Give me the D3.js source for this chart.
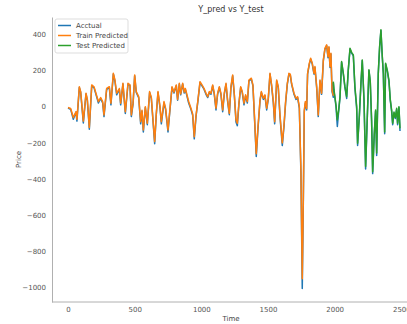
<!DOCTYPE html>
<html>
<head>
<meta charset="utf-8">
<script src="https://cdn.jsdelivr.net/npm/d3@7"></script>
<style>
  body { margin: 0; background: #fff; }
  text { font-family: "DejaVu Sans", sans-serif; }
</style>
</head>
<body>
<div id="chart"></div>
<script>
// training window: time, actual price, train prediction
const trainTime = [0, 20, 40, 60, 67, 85, 95, 115, 135, 145, 160, 178, 195, 215, 228, 245, 260, 270, 290, 310,
  322, 340, 352, 365, 385, 395, 412, 430, 450, 465, 475, 488, 500, 512, 530, 545, 555, 565, 580, 595,
  612, 625, 650, 662, 675, 690, 700, 720, 732, 750, 765, 780, 795, 812, 822, 835, 845, 860, 872, 880,
  905, 922, 935, 947, 960, 975, 990, 1005, 1020, 1035, 1048, 1060, 1072, 1085, 1097, 1110, 1122, 1135, 1147, 1160,
  1172, 1185, 1197, 1210, 1222, 1235, 1247, 1260, 1270, 1282, 1295, 1307, 1320, 1332, 1345, 1357, 1375, 1387, 1400, 1412,
  1425, 1440, 1450, 1465, 1477, 1490, 1502, 1515, 1527, 1540, 1550, 1565, 1577, 1590, 1607, 1620, 1632, 1645, 1657, 1667,
  1677, 1695, 1710, 1722, 1735, 1747, 1757, 1765, 1772, 1780, 1790, 1797, 1810, 1820, 1832, 1845, 1852, 1865, 1877, 1890,
  1902, 1915, 1927, 1940, 1950, 1957, 1965, 1972, 1980, 1990];
const trainActual = [-8, -15, -70, -30, -80, 105, 80, -90, 70, 35, -125, 115, 105, 55, 20, 45, 20, -55, 95, 105,
  10, 180, 140, 65, 95, 10, 125, -38, 125, 115, -55, 15, 170, 78, 50, -95, -25, -140, -5, -100,
  78, 45, -205, -45, 78, -5, -95, 20, -15, -140, -15, 105, 75, 115, 35, 125, 65, 125, 75, 95,
  20, -15, -48, -178, -55, 35, 133, 115, 96, 68, 50, 78, 68, 115, 68, -18, 68, 105, 68, -28,
  68, 124, 30, -45, 104, 170, 68, -85, -105, 15, 105, 78, 10, 60, 20, 142, 152, 115, -85, -275,
  -120, 30, 78, 40, 60, -18, 40, 180, 115, 20, -95, 142, 105, -55, -215, -110, 20, 124, 180, 175,
  124, 68, 40, 50, -8, -370, -1005, -520, -30, 20, -18, 180, 235, 262, 235, 180, 216, 105, -55, 142,
  68, 253, 318, 337, 270, 326, 216, 290, 85, 52];
const trainPred = [-5, -10, -60, -28, -70, 110, 83, -80, 74, 40, -115, 120, 110, 60, 28, 50, 28, -46, 101, 110,
  19, 184, 147, 74, 100, 19, 129, -28, 129, 120, -46, 20, 175, 83, 55, -83, -20, -129, 0, -92,
  83, 50, -193, -40, 83, 0, -83, 28, -10, -129, -10, 110, 80, 120, 40, 129, 70, 129, 80, 100,
  28, -9, -40, -166, -50, 40, 138, 120, 101, 74, 55, 83, 74, 120, 74, -9, 74, 110, 74, -18,
  74, 129, 37, -37, 110, 175, 74, -73, -92, 20, 110, 83, 19, 65, 28, 147, 157, 120, -73, -260,
  -110, 37, 83, 46, 65, -9, 46, 184, 120, 28, -83, 147, 110, -46, -200, -100, 28, 129, 184, 180,
  129, 74, 46, 55, 0, -350, -950, -500, -20, 28, -10, 184, 240, 267, 240, 184, 221, 110, -46, 147,
  74, 258, 322, 341, 276, 331, 221, 295, 92, 60];

// test window: time, actual price, test prediction
const testTime = [1990, 1995, 2010, 2020, 2030, 2040, 2052, 2065, 2077, 2090, 2102, 2115, 2127, 2140, 2152, 2165, 2172, 2185, 2197, 2207,
  2220, 2232, 2245, 2257, 2267, 2277, 2285, 2297, 2307, 2315, 2327, 2337, 2347, 2357, 2365, 2375, 2382, 2395, 2407, 2417,
  2427, 2435, 2445, 2455, 2465, 2472, 2482, 2490];
const testActual = [130, 85, 0, -110, -25, 50, 245, 180, 105, 45, 200, 318, 295, 280, 100, -10, -215, -55, 125, 255,
  35, -345, -55, 200, 135, -80, -370, -155, -25, -270, 180, 325, 420, 275, 180, -150, 235, 195, 140, 35,
  -25, -100, -35, -65, -15, -100, -5, -135];
const testPred = [138, 92, 9, -73, -20, 55, 249, 184, 110, 55, 203, 322, 300, 286, 110, 0, -202, -50, 129, 258,
  40, -331, -50, 203, 140, -73, -359, -150, -18, -256, 184, 330, 424, 280, 184, -140, 240, 200, 147, 40,
  -18, -92, -30, -60, -9, -92, 0, -120];

const xTicks = [0, 500, 1000, 1500, 2000, 2500];
const yTicks = [400, 200, 0, -200, -400, -600, -800, -1000];
const seriesNames = ['Acctual', 'Train Predicted', 'Test Predicted'];
const seriesColors = ['#1f77b4', '#ff7f0e', '#2ca02c'];

const width = 407, height = 324;
const plot = { left: 52, right: 406, top: 17, bottom: 302 };

const svg = d3.select('#chart').append('svg')
  .attr('width', width)
  .attr('height', height);

const x = d3.scaleLinear().domain([-120, 2535]).range([plot.left, plot.right]);
const y = d3.scaleLinear().domain([-1079, 495]).range([plot.bottom, plot.top]);

// Axes (no tick marks, seaborn white style)
const xAxis = svg.append('g')
  .attr('transform', `translate(0,${plot.bottom})`)
  .call(d3.axisBottom(x).tickValues(xTicks).tickSize(0).tickPadding(5).tickFormat(d3.format('d')));
const yAxis = svg.append('g')
  .attr('transform', `translate(${plot.left},0)`)
  .call(d3.axisLeft(y).tickValues(yTicks).tickSize(0).tickPadding(6)
    .tickFormat(d => d < 0 ? '\u2212' + Math.abs(d) : d));
[xAxis, yAxis].forEach(g => {
  g.select('.domain').attr('stroke', '#b0b0b0').attr('stroke-width', 1);
  g.selectAll('text').attr('fill', '#555').attr('font-size', 7).attr('font-family', 'DejaVu Sans, sans-serif');
});
// bottom spine runs to the edge
xAxis.select('.domain').attr('d', `M${plot.left},0H${plot.right + 2}`);

// Lines
const line = d3.line()
  .x(d => x(d[0]))
  .y(d => y(d[1]));

const actualPts = trainTime.map((t, i) => [t, trainActual[i]])
  .concat(testTime.map((t, i) => [t, testActual[i]]));
const trainPts = trainTime.map((t, i) => [t, trainPred[i]]);
const testPts = testTime.map((t, i) => [t, testPred[i]]);

[actualPts, trainPts, testPts].forEach((pts, i) => {
  svg.append('path')
    .datum(pts)
    .attr('fill', 'none')
    .attr('stroke', seriesColors[i])
    .attr('stroke-width', 1.5)
    .attr('stroke-linejoin', 'round')
    .attr('d', line);
});

// Title and axis labels
svg.append('text')
  .attr('x', (plot.left + 410) / 2)
  .attr('y', 12)
  .attr('text-anchor', 'middle')
  .attr('font-size', 8)
  .attr('fill', '#333')
  .text('Y_pred vs Y_test');
svg.append('text')
  .attr('x', (plot.left + 410) / 2)
  .attr('y', 321)
  .attr('text-anchor', 'middle')
  .attr('font-size', 7)
  .attr('fill', '#444')
  .text('Time');
svg.append('text')
  .attr('transform', `translate(21,${(plot.top + plot.bottom) / 2}) rotate(-90)`)
  .attr('text-anchor', 'middle')
  .attr('font-size', 7)
  .attr('fill', '#444')
  .text('Price');

// Legend
const legend = svg.append('g').attr('transform', 'translate(55,19)');
legend.append('rect')
  .attr('width', 73)
  .attr('height', 34)
  .attr('rx', 2)
  .attr('fill', '#fff')
  .attr('fill-opacity', 0.8)
  .attr('stroke', '#ddd');
seriesNames.forEach((name, i) => {
  legend.append('line')
    .attr('x1', 3).attr('x2', 16)
    .attr('y1', 6.5 + i * 10).attr('y2', 6.5 + i * 10)
    .attr('stroke', seriesColors[i])
    .attr('stroke-width', 1.5);
  legend.append('text')
    .attr('x', 21)
    .attr('y', 9 + i * 10)
    .attr('font-size', 7)
    .attr('fill', '#444')
    .text(name);
});
</script>
</body>
</html>
